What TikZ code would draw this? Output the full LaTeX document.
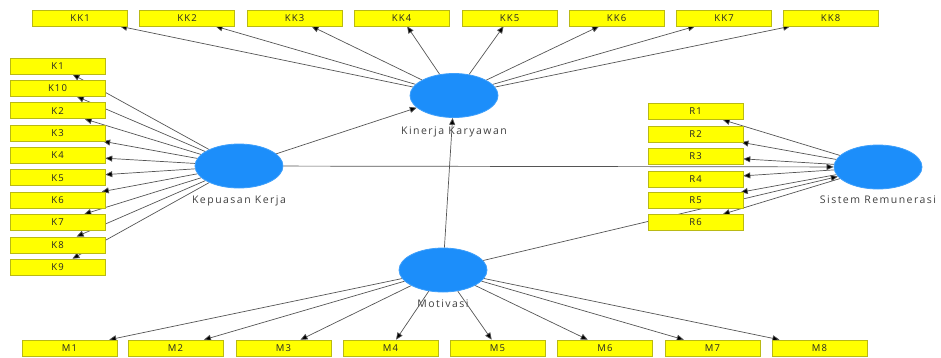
\documentclass[tikz,border=0pt]{standalone}
\usepackage{fontspec}
\setmainfont{Open Sans}
\newfontfamily\boxfont[LetterSpace=12]{Open Sans}
\newfontfamily\lblfont[LetterSpace=14]{Open Sans}
\usetikzlibrary{positioning,arrows.meta,backgrounds,shapes.geometric}
\definecolor{indfill}{RGB}{255,255,0}
\definecolor{inddraw}{RGB}{185,185,20}
\definecolor{latfill}{RGB}{28,142,250}
\definecolor{edgecol}{RGB}{85,85,85}
\tikzset{
	ind/.style={draw=inddraw, fill=indfill, line width=0.6pt, minimum width=95pt, minimum height=16pt,
		inner sep=0pt, font=\boxfont\fontsize{9.5}{10}\selectfont, text=black!85},
	lat/.style={ellipse, draw=latfill!85!white, fill=latfill, line width=0.8pt, minimum width=88pt,
		minimum height=44pt, inner sep=0pt},
	lbl/.style={inner sep=0pt, font=\lblfont\fontsize{10.5}{12}\selectfont, text=black!75},
	rel/.style={draw=edgecol, line width=0.7pt, -{Triangle[length=7pt,width=6pt,fill=black]}}
}
\begin{document}
\begin{tikzpicture}[x=1pt, y=-1pt]

	\useasboundingbox (0,0) rectangle (941,357);

	% latent variables
	\node[lat] (KIN) at (454,95.5) {};
	\node[lat] (KEP) at (239,166) {};
	\node[lat] (MOT) at (443,270) {};
	\node[lat] (SIS) at (878,167) {};

	% indicators Kinerja Karyawan
	\node[ind] (KK1) at (80,18)    {KK1};
	\node[ind] (KK2) at (187,18)   {KK2};
	\node[ind] (KK3) at (294.5,18) {KK3};
	\node[ind] (KK4) at (401.5,18) {KK4};
	\node[ind] (KK5) at (509.5,18) {KK5};
	\node[ind] (KK6) at (616.5,18) {KK6};
	\node[ind] (KK7) at (724,18)   {KK7};
	\node[ind] (KK8) at (830.5,18) {KK8};

	% indicators Kepuasan Kerja
	\node[ind] (K1)  at (57.5,66)    {K1};
	\node[ind] (K10) at (57.5,88.3)  {K10};
	\node[ind] (K2)  at (57.5,110.7) {K2};
	\node[ind] (K3)  at (57.5,133)   {K3};
	\node[ind] (K4)  at (57.5,155.4) {K4};
	\node[ind] (K5)  at (57.5,177.7) {K5};
	\node[ind] (K6)  at (57.5,200)   {K6};
	\node[ind] (K7)  at (57.5,222.4) {K7};
	\node[ind] (K8)  at (57.5,244.8) {K8};
	\node[ind] (K9)  at (57.5,267)   {K9};

	% indicators Sistem Remunerasi
	\node[ind] (R1) at (695.5,111.5) {R1};
	\node[ind] (R2) at (695.5,134)   {R2};
	\node[ind] (R3) at (695.5,156)   {R3};
	\node[ind] (R4) at (695.5,179)   {R4};
	\node[ind] (R5) at (695.5,200.5) {R5};
	\node[ind] (R6) at (695.5,222.5) {R6};

	% indicators Motivasi
	\node[ind] (M1) at (69.5,348)  {M1};
	\node[ind] (M2) at (175.5,348) {M2};
	\node[ind] (M3) at (283.5,348) {M3};
	\node[ind] (M4) at (390.5,348) {M4};
	\node[ind] (M5) at (497.5,348) {M5};
	\node[ind] (M6) at (605,348)   {M6};
	\node[ind] (M7) at (712.5,348) {M7};
	\node[ind] (M8) at (819.5,348) {M8};

	\begin{pgfonlayer}{background}
	% labels
	\node[lbl, below=9pt of KIN] (KINl) {Kinerja Karyawan};
	\node[lbl, below=7pt of KEP] (KEPl) {Kepuasan Kerja};
	\node[lbl, below=7pt of MOT] (MOTl) {Motivasi};
	\node[lbl, below=6pt of SIS] (SISl) {Sistem Remunerasi};

	% structural paths
	\draw[rel] (KEP) -- (KIN);
	\draw[rel] (MOT) -- (KIN);
	\draw[rel] (KEP) -- (SIS);
	\draw[rel] (MOT) -- (SIS);

	% loadings
	\draw[rel] (KIN) -- (KK1);
	\draw[rel] (KIN) -- (KK2);
	\draw[rel] (KIN) -- (KK3);
	\draw[rel] (KIN) -- (KK4);
	\draw[rel] (KIN) -- (KK5);
	\draw[rel] (KIN) -- (KK6);
	\draw[rel] (KIN) -- (KK7);
	\draw[rel] (KIN) -- (KK8);

	\draw[rel] (KEP) -- (K1);
	\draw[rel] (KEP) -- (K10);
	\draw[rel] (KEP) -- (K2);
	\draw[rel] (KEP) -- (K3);
	\draw[rel] (KEP) -- (K4);
	\draw[rel] (KEP) -- (K5);
	\draw[rel] (KEP) -- (K6);
	\draw[rel] (KEP) -- (K7);
	\draw[rel] (KEP) -- (K8);
	\draw[rel] (KEP) -- (K9);

	\draw[rel] (SIS) -- (R1);
	\draw[rel] (SIS) -- (R2);
	\draw[rel] (SIS) -- (R3);
	\draw[rel] (SIS) -- (R4);
	\draw[rel] (SIS) -- (R5);
	\draw[rel] (SIS) -- (R6);

	\draw[rel] (MOT) -- (M1);
	\draw[rel] (MOT) -- (M2);
	\draw[rel] (MOT) -- (M3);
	\draw[rel] (MOT) -- (M4);
	\draw[rel] (MOT) -- (M5);
	\draw[rel] (MOT) -- (M6);
	\draw[rel] (MOT) -- (M7);
	\draw[rel] (MOT) -- (M8);
	\end{pgfonlayer}

\end{tikzpicture}
\end{document}
